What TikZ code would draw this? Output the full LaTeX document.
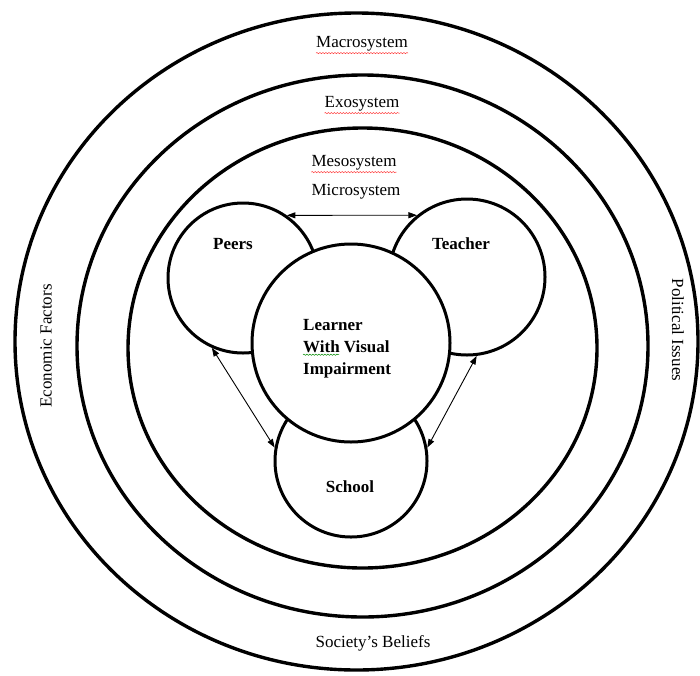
\documentclass[tikz,border=0pt]{standalone}
\usepackage{fontspec}
\setmainfont{Liberation Serif}
\usetikzlibrary{shapes.geometric,arrows.meta,decorations.pathmorphing,calc}
\begin{document}
\begin{tikzpicture}[x=1pt,y=-1pt,
  sys/.style={ellipse,draw,line width=3.4pt,inner sep=0pt},
  ctx/.style={circle,draw,fill=white,line width=3pt,inner sep=0pt},
  lbl/.style={font=\fontsize{17}{20}\selectfont,inner sep=0pt},
  blbl/.style={font=\fontsize{17}{22}\selectfont\bfseries,inner sep=0pt},
  link/.style={{Triangle[length=8.5pt,width=6pt]}-{Triangle[length=8.5pt,width=6pt]},line width=0.9pt},
  spell/.style={draw=red!75,line width=0.5pt,decorate,decoration={snake,amplitude=0.6pt,segment length=3pt}},
  grammar/.style={spell,draw=green!55!black}
]
\useasboundingbox (0,0) rectangle (700,675);

% system ellipses
\node[sys,minimum width=683pt,minimum height=657pt] (macro) at (356.5,341.5) {};
\node[sys,minimum width=571pt,minimum height=542pt] (exo) at (362.5,346) {};
\node[sys,minimum width=469pt,minimum height=440pt] (meso) at (362.5,348) {};

% context circles
\node[ctx,minimum size=150pt] (peers) at (243,278) {};
\node[ctx,minimum size=156pt] (teacher) at (467,277) {};
\node[ctx,minimum size=152pt] (school) at (351,461) {};
\node[ctx,minimum size=198pt] (learner) at (351,343) {};

% links
\draw[link] (peers.55) -- (teacher.129);
\draw[link] (peers.246) -- (school.170);
\draw[link] (teacher.277) -- (school.10);

% labels
\node[lbl] (tmacro) at (362,44) {Macrosystem};
\node[lbl] (texo) at (362,104) {Exosystem};
\node[lbl] (tmeso) at (354,163) {Mesosystem};
\node[lbl] (tmicro) at (356,192) {Microsystem};
\node[lbl] (tsoc) at (373,643) {Society’s Beliefs};
\node[lbl,rotate=90] (tecon) at (46,346) {Economic Factors};
\node[lbl,rotate=-90] (tpol) at (678,330) {Political Issues};

\node[blbl] (tpeers) at (233,244) {Peers};
\node[blbl] (tteacher) at (461,244) {Teacher};
\node[blbl] (tschool) at (350,487) {School};
\node[blbl,anchor=west] (tl1) at (303,325) {Learner};
\node[blbl,anchor=west] (tl2) at (303,347) {With Visual};
\node[blbl,anchor=west] (tl3) at (303,370) {Impairment};

% spell-check underlines
\draw[spell] ([yshift=-1.5pt]tmacro.south west) -- ([yshift=-1.5pt]tmacro.south east);
\draw[spell] ([yshift=-1.5pt]texo.south west) -- ([yshift=-1.5pt]texo.south east);
\draw[spell] ([yshift=-1.5pt]tmeso.south west) -- ([yshift=-1.5pt]tmeso.south east);
\draw[grammar] ([yshift=-1.5pt]tl2.south west) -- ($([yshift=-1.5pt]tl2.south west)+(36,0)$);
\end{tikzpicture}
\end{document}
